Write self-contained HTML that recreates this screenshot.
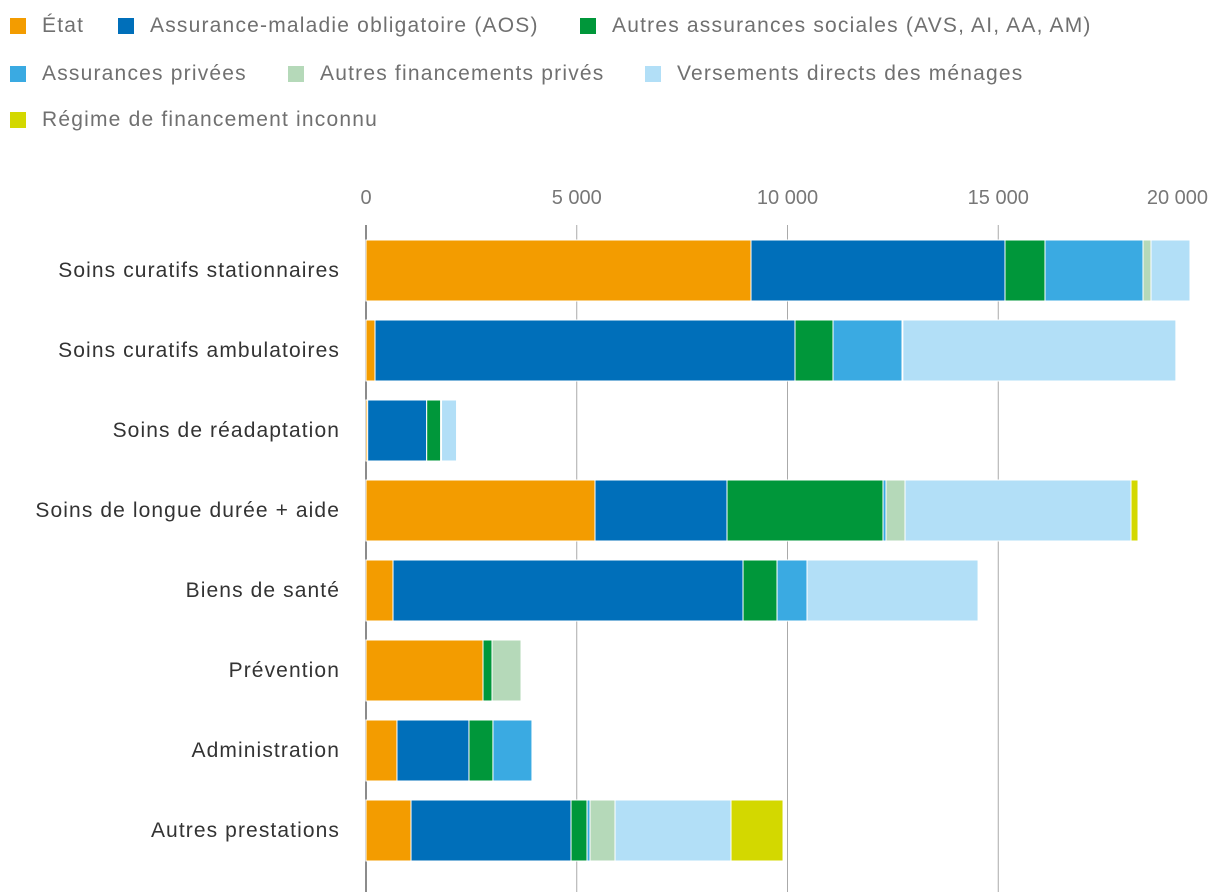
<!DOCTYPE html>
<html><head><meta charset="utf-8"><style>
body{margin:0;background:#fff;width:1220px;height:892px;overflow:hidden;font-family:"Liberation Sans",sans-serif}
.leg{position:absolute;font-size:21px;letter-spacing:1.2px;color:#707070;display:flex;align-items:center;white-space:nowrap}
.leg span.sw{display:inline-block;width:16px;height:16px;margin-right:16px}
</style></head><body>
<div id="legend"></div>
<svg id="chart" width="1220" height="892" style="position:absolute;left:0;top:0"></svg>
<script>
const categories=["Soins curatifs stationnaires","Soins curatifs ambulatoires","Soins de réadaptation","Soins de longue durée + aide","Biens de santé","Prévention","Administration","Autres prestations"];
const seriesNames=["État","Assurance-maladie obligatoire (AOS)","Autres assurances sociales (AVS, AI, AA, AM)","Assurances privées","Autres financements privés","Versements directs des ménages","Régime de financement inconnu"];
const etat=[9134,214,40,5433,641,2776,735,1068];
const aos=[6026,9964,1400,3132,8304,0,1708,3796];
const autresSoc=[949,902,332,3701,807,214,569,380];
const privees=[2325,1637,20,71,712,0,925,71];
const autresFin=[190,20,0,451,0,688,0,593];
const menages=[925,6477,356,5362,4057,0,0,2752];
const inconnu=[0,0,0,166,0,0,0,1234];
const ticks=[0,5000,10000,15000,20000];
const tickLabels=["0","5 000","10 000","15 000","20 000"];
const series=[etat,aos,autresSoc,privees,autresFin,menages,inconnu];
const colors=["#f39c00","#006fba","#00973a","#3aaae2","#b5d9b9","#b2dff7","#d3d800"];
const NS="http://www.w3.org/2000/svg";
const svg=document.getElementById('chart');
const x0=366,px=0.04215;
const X=v=>x0+v*px;
const Y=i=>270+i*80;
function mk(t,a){const e=document.createElementNS(NS,t);for(const k in a)e.setAttribute(k,a[k]);svg.appendChild(e);return e;}
const legPos=[[10,26],[118,26],[580,26],[10,74],[288,74],[645,74],[10,120]];
const lg=document.getElementById('legend');
seriesNames.forEach((n,i)=>{const d=document.createElement('div');d.className='leg';


d.style.left=legPos[i][0]+'px';d.style.top=(legPos[i][1]-12)+'px';
d.innerHTML='<span class="sw" style="background:'+colors[i]+'"></span>'+n;lg.appendChild(d);});
ticks.forEach((t,i)=>{
if(i<ticks.length-1){const g=mk('line',{x1:X(t),x2:X(t),y1:225,y2:892,stroke:i==0?'#666':'#aaa','stroke-width':i==0?1.5:1});

}
const tx=mk('text',{x:i==ticks.length-1?1208:X(t),y:204,'font-size':20,fill:'#777','text-anchor':i==ticks.length-1?'end':'middle','font-family':'Liberation Sans, sans-serif'});
tx.textContent=tickLabels[i];

});
categories.forEach((c,i)=>{
const l=mk('text',{x:340,y:Y(i)+7,'font-size':21,'letter-spacing':1.1,fill:'#333','text-anchor':'end','font-family':'Liberation Sans, sans-serif'});
l.textContent=c;


let acc=0;
series.forEach((s,j)=>{const v=s[i];if(v<=0)return;
const r=mk('rect',{x:X(acc),y:Y(i)-30,width:Math.max(0,v*px),height:61,fill:colors[j],stroke:'#fff','stroke-width':1});


acc+=v;});
});
</script>
</body></html>
